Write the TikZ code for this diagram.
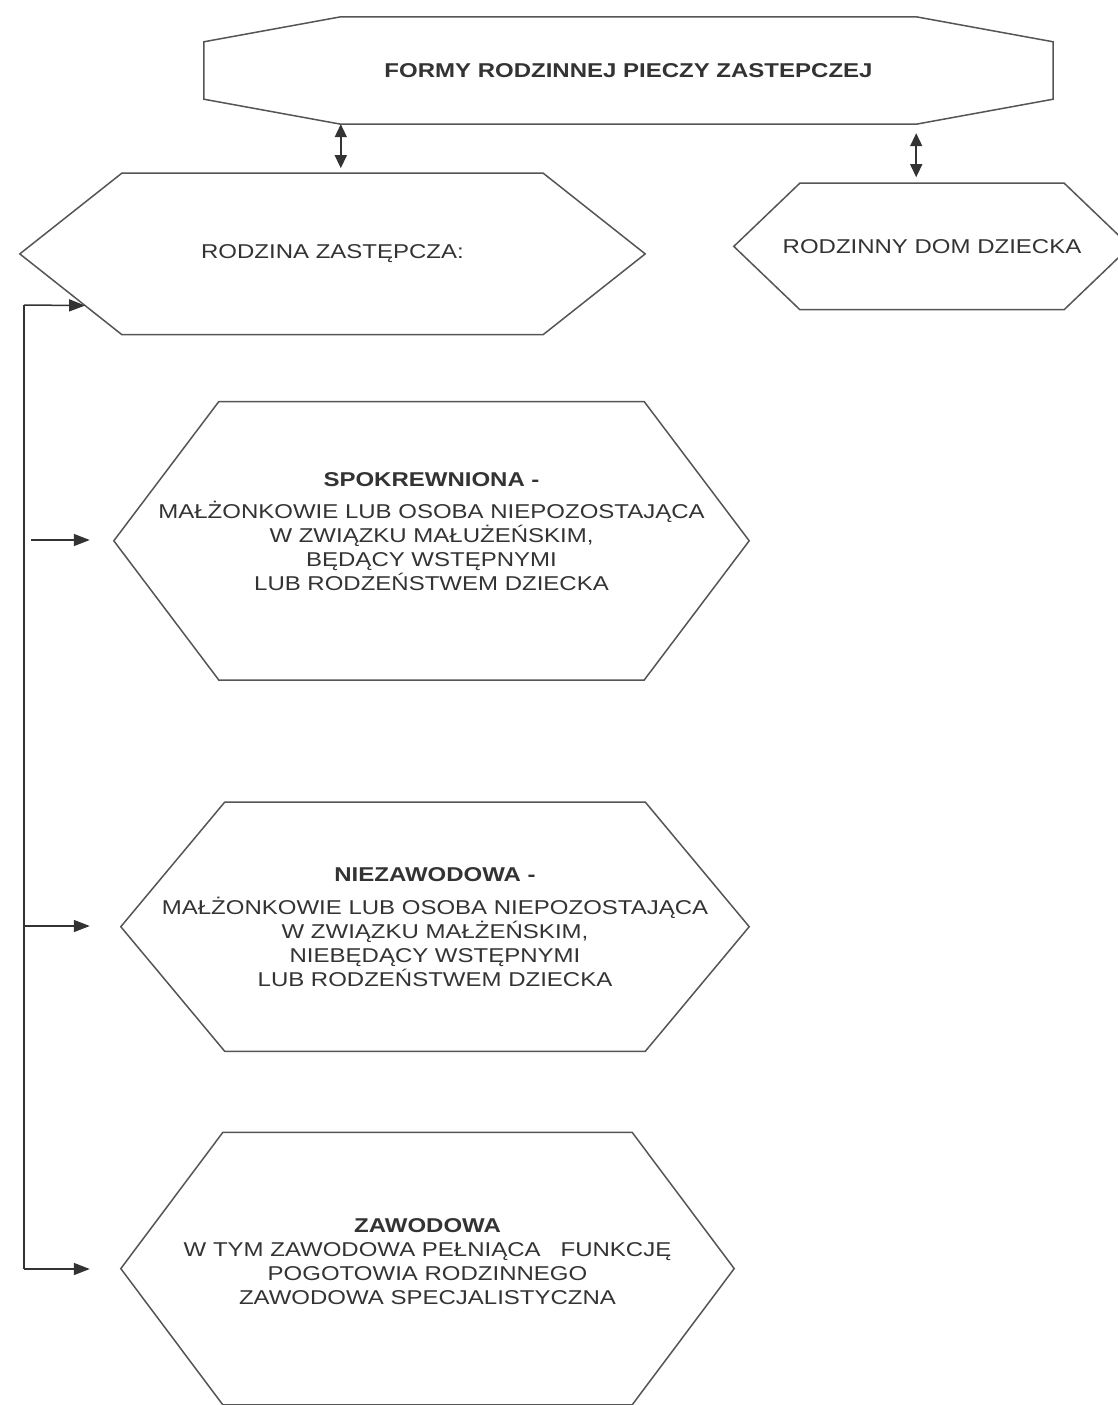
\documentclass[tikz,border=0pt]{standalone}
\usepackage{fontspec}
\setmainfont{Liberation Sans}[FakeStretch=1.2]
\usepackage{tikz}
\usetikzlibrary{positioning}
\usetikzlibrary{arrows.meta}
\usetikzlibrary{calc}
\usepackage{xcolor}

\definecolor{ink}{HTML}{333333}
\definecolor{wire}{HTML}{555555}

% outline of a box with cut corners (octagon) and of a pointed box (hexagon)
\newcommand{\octarim}[3]{%
  \draw[rim] ([yshift=-#3]#1.north west) -- ([xshift=#2]#1.north west)
    -- ([xshift=-#2]#1.north east) -- ([yshift=-#3]#1.north east)
    -- ([yshift=#3]#1.south east) -- ([xshift=-#2]#1.south east)
    -- ([xshift=#2]#1.south west) -- ([yshift=#3]#1.south west) -- cycle;}
\newcommand{\hexrim}[2]{%
  \draw[rim] (#1.west) -- ([xshift=#2]#1.north west)
    -- ([xshift=-#2]#1.north east) -- (#1.east)
    -- ([xshift=-#2]#1.south east) -- ([xshift=#2]#1.south west) -- cycle;}

\begin{document}
\begin{tikzpicture}[
  x=1pt, y=-1pt,
  font=\fontsize{20}{24}\selectfont,
  formbox/.style={inner sep=0pt, align=center, text=ink},
  rim/.style={draw=wire, line width=1.5pt},
  link/.style={rim, draw=ink, -{Triangle[length=16pt,width=12pt]}},
  twoway/.style={rim, draw=ink, {Triangle[length=13pt,width=12pt]}-{Triangle[length=13pt,width=12pt]}}
]
\useasboundingbox (0,0) rectangle (1117,1405);

% Main category
\node[formbox, minimum width=849pt, minimum height=107pt] (forms) at (628.5,70.5)
{\textbf{FORMY RODZINNEJ PIECZY ZASTEPCZEJ}};

% Foster family and family children's home
\node[formbox, below=49pt of forms, xshift=-296pt, minimum width=625pt, minimum height=161pt] (foster)
{RODZINA ZASTĘPCZA:};
\node[formbox, below=59pt of forms, xshift=303.5pt, minimum width=396pt, minimum height=126pt] (home)
{RODZINNY DOM DZIECKA};

% Kinds of foster family
\node[formbox, below=67pt of foster, xshift=99pt, minimum width=635pt, minimum height=278pt] (kin)
{\textbf{SPOKREWNIONA -}\\[8pt]
MAŁŻONKOWIE LUB OSOBA NIEPOZOSTAJĄCA\\
W ZWIĄZKU MAŁUŻEŃSKIM,\\
BĘDĄCY WSTĘPNYMI\\
LUB RODZEŃSTWEM DZIECKA\\[-6pt]};
\node[formbox, below=122pt of kin, xshift=3.5pt, minimum width=628pt, minimum height=249pt] (nonpro)
{\textbf{NIEZAWODOWA -}\\[9pt]
MAŁŻONKOWIE LUB OSOBA NIEPOZOSTAJĄCA\\
W ZWIĄZKU MAŁŻEŃSKIM,\\
NIEBĘDĄCY WSTĘPNYMI\\
LUB RODZEŃSTWEM DZIECKA};
\node[formbox, below=81pt of nonpro, xshift=-7.5pt, minimum width=613pt, minimum height=272pt] (pro)
{\textbf{ZAWODOWA}\\
W TYM ZAWODOWA PEŁNIĄCA\hspace{20pt}FUNKCJĘ\\
POGOTOWIA RODZINNEGO\\
ZAWODOWA SPECJALISTYCZNA\\[-10pt]};

\octarim{forms}{137pt}{25pt}
\hexrim{foster}{102pt}
\hexrim{home}{66pt}
\hexrim{kin}{105pt}
\hexrim{nonpro}{104pt}
\hexrim{pro}{102pt}

% Links from the main category
\coordinate (fl) at ([xshift=137pt]forms.south west);
\coordinate (fr) at ([xshift=-137pt]forms.south east);
\draw[twoway, shorten >=5pt] (fl) -- (fl |- foster.north);
\draw[twoway, shorten <=9pt, shorten >=6pt] (fr) -- (fr |- home.north);

% Spine on the left
\coordinate (tapfoster) at (24,305);
\coordinate (tapkin) at (31,540);
\coordinate (tapnonpro) at (24,926);
\coordinate (tappro) at (24,1269);
\coordinate (hit) at ($(foster.west)!0.64!([xshift=102pt]foster.south west)$);
\draw[rim, draw=ink] (tapfoster) -- (tappro);
\draw[link] (tapfoster) -- (hit);
\draw[link, shorten >=24pt] (tapkin) -- (tapkin -| kin.west);
\draw[link, shorten >=31pt] (tapnonpro) -- (tapnonpro -| nonpro.west);
\draw[link, shorten >=31pt] (tappro) -- (tappro -| pro.west);

\end{tikzpicture}
\end{document}
